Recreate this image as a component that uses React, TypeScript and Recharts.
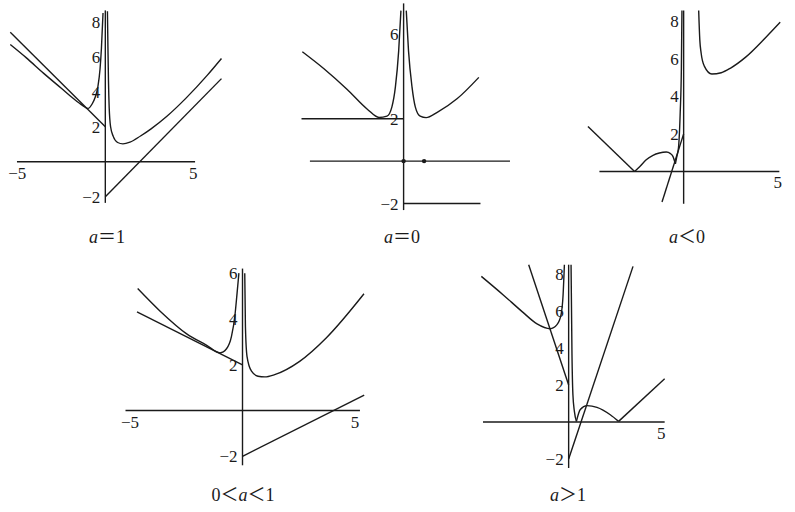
import React from 'react';
import {
  ComposedChart,
  Line,
  Scatter,
  XAxis,
  YAxis,
  ReferenceLine,
  ReferenceDot
} from 'recharts';

const INK = '#1a1a1a';
const SERIF = '"Liberation Serif", "Times New Roman", Times, serif';

// a = 1
const a1Left = [
  { x: -5.4, y: 6.7 }, { x: -4.5, y: 5.95 }, { x: -3.5, y: 5.05 }, { x: -2.5, y: 4.2 },
  { x: -1.8, y: 3.6 }, { x: -1.3, y: 3.22 }, { x: -1.0, y: 3.04 }, { x: -0.75, y: 3.3 },
  { x: -0.57, y: 3.7 }, { x: -0.42, y: 4.3 }, { x: -0.3, y: 5.3 }, { x: -0.22, y: 6.5 },
  { x: -0.13, y: 8.5 }
];
const a1Right = [
  { x: 0.12, y: 8.6 }, { x: 0.15, y: 6.5 }, { x: 0.18, y: 4.6 }, { x: 0.22, y: 3.1 },
  { x: 0.3, y: 2.0 }, { x: 0.45, y: 1.45 }, { x: 0.7, y: 1.1 }, { x: 1.0, y: 1.02 },
  { x: 1.4, y: 1.12 }, { x: 2.0, y: 1.47 }, { x: 2.6, y: 1.88 }, { x: 3.5, y: 2.6 },
  { x: 4.6, y: 3.65 }, { x: 5.8, y: 4.95 }, { x: 6.6, y: 5.9 }
];
const a1LineL = [{ x: -5.4, y: 7.4 }, { x: 0, y: 2 }];
const a1LineR = [{ x: 0, y: -2 }, { x: 6.6, y: 4.75 }];
const a1YTicks = [8, 6, 4, 2, -2];
const a1XTicks = [-5, 5];

// a = 0
const a0Left = [
  { x: -4.94, y: 5.16 }, { x: -3.9, y: 4.37 }, { x: -2.75, y: 3.38 }, { x: -1.77, y: 2.45 },
  { x: -1.2, y: 2.06 }, { x: -0.81, y: 2.12 }, { x: -0.57, y: 2.56 }, { x: -0.4, y: 3.5 },
  { x: -0.24, y: 5.2 }, { x: -0.13, y: 7.1 }
];
const a0Right = [
  { x: 0.13, y: 7.1 }, { x: 0.24, y: 5.2 }, { x: 0.41, y: 3.5 }, { x: 0.57, y: 2.56 },
  { x: 0.81, y: 2.12 }, { x: 1.1, y: 2.05 }, { x: 1.64, y: 2.3 }, { x: 2.62, y: 2.95 },
  { x: 3.67, y: 3.95 }
];
const a0Upper = [{ x: -4.98, y: 2 }, { x: 0, y: 2 }];
const a0Lower = [{ x: 0, y: -2 }, { x: 3.75, y: -2 }];
const a0Dots = [{ x: 0, y: 0 }, { x: 1, y: 0 }];
const a0YTicks = [6, 2, -2];

// a < 0
const aNegRight = [
  { x: 0.8, y: 8.56 }, { x: 0.86, y: 7.0 }, { x: 0.93, y: 6.3 }, { x: 1.1, y: 5.6 },
  { x: 1.5, y: 5.18 }, { x: 2.0, y: 5.25 }, { x: 2.5, y: 5.5 }, { x: 3.3, y: 6.08 },
  { x: 4.38, y: 7.14 }, { x: 5.14, y: 7.94 }
];
const aNegV = [{ x: -5.09, y: 2.39 }, { x: -2.61, y: 0 }];
const aNegHump = [
  { x: -2.61, y: 0 }, { x: -2.34, y: 0.25 }, { x: -1.99, y: 0.62 }, { x: -1.63, y: 0.86 },
  { x: -1.29, y: 0.98 }, { x: -0.92, y: 1.03 }, { x: -0.7, y: 0.95 }, { x: -0.57, y: 0.8 },
  { x: -0.44, y: 0.4 }
];
const aNegBranch = [
  { x: -0.44, y: 0.4 }, { x: -0.36, y: 0.8 }, { x: -0.27, y: 1.3 }, { x: -0.18, y: 3.2 },
  { x: -0.12, y: 5.5 }, { x: -0.09, y: 8.56 }
];
const aNegLine = [{ x: -1.15, y: -1.63 }, { x: 0, y: 2 }];
const aNegYTicks = [8, 6, 4, 2];
const aNegXTicks = [5];

// 0 < a < 1
const aMidLeft = [
  { x: -4.66, y: 5.33 }, { x: -3.66, y: 4.34 }, { x: -2.48, y: 3.35 }, { x: -1.59, y: 2.85 },
  { x: -1.0, y: 2.52 }, { x: -0.71, y: 2.7 }, { x: -0.49, y: 3.24 }, { x: -0.34, y: 4.12 },
  { x: -0.24, y: 5.14 }, { x: -0.16, y: 6.0 }
];
const aMidRight = [
  { x: 0.1, y: 6.0 }, { x: 0.13, y: 3.68 }, { x: 0.2, y: 2.37 }, { x: 0.4, y: 1.72 },
  { x: 0.69, y: 1.5 }, { x: 0.99, y: 1.47 }, { x: 1.43, y: 1.57 }, { x: 2.54, y: 2.15 },
  { x: 3.72, y: 3.17 }, { x: 5.4, y: 5.1 }
];
const aMidLineL = [{ x: -4.69, y: 4.31 }, { x: 0, y: 2 }];
const aMidLineR = [{ x: 0, y: -2 }, { x: 5.41, y: 0.67 }];
const aMidYTicks = [6, 4, 2, -2];
const aMidXTicks = [-5, 5];

// a > 1
const aBigLeft = [
  { x: -4.72, y: 7.87 }, { x: -3.55, y: 6.88 }, { x: -2.5, y: 5.95 }, { x: -1.71, y: 5.3 },
  { x: -1.0, y: 5.04 }, { x: -0.63, y: 5.26 }, { x: -0.41, y: 5.8 }, { x: -0.3, y: 6.88 },
  { x: -0.23, y: 8.5 }
];
const aBigDrop = [
  { x: 0.13, y: 8.5 }, { x: 0.18, y: 3.64 }, { x: 0.23, y: 1.48 }, { x: 0.31, y: 0.57 },
  { x: 0.42, y: 0.03 }
];
const aBigHump = [
  { x: 0.42, y: 0.03 }, { x: 0.63, y: 0.67 }, { x: 0.99, y: 0.88 }, { x: 1.53, y: 0.79 },
  { x: 2.25, y: 0.39 }, { x: 2.7, y: 0.03 }
];
const aBigTail = [{ x: 2.7, y: 0.03 }, { x: 5.19, y: 2.34 }];
const aBigLineL = [{ x: -2.16, y: 8.5 }, { x: 0, y: 2 }];
const aBigLineR = [{ x: 0, y: -2 }, { x: 3.48, y: 8.41 }];
const aBigYTicks = [8, 6, 4, 2, -2];
const aBigXTicks = [5];

const fmt = (v: number) => (v < 0 ? '\u2212' + Math.abs(v) : String(v));

type Pt = { x: number; y: number };
type PanelCfg = {
  ox: number; oy: number; sx: number; sy: number;
  xDom: [number, number]; yDom: [number, number];
  xAxis: [number, number]; yAxis: [number, number];
  curves: Pt[][]; straights: Pt[][]; dots?: Pt[];
  yTicks: number[]; xTicks: number[];
  title: React.ReactNode; tx: number; ty: number;
};

const A = ({ c }: { c: string }) => <i>{c}</i>;

const panels: PanelCfg[] = [
  {
    ox: 105, oy: 162, sx: 17.6, sy: 17.5, xDom: [-5.7, 6.9], yDom: [-2.6, 8.9],
    xAxis: [-5.02, 5.1], yAxis: [-2.35, 8.65],
    curves: [a1Left, a1Right], straights: [a1LineL, a1LineR],
    yTicks: a1YTicks, xTicks: a1XTicks,
    title: <><A c="a" />＝1</>, tx: 107, ty: 237
  },
  {
    ox: 403.3, oy: 161, sx: 20.5, sy: 21.2, xDom: [-5.2, 5.4], yDom: [-2.5, 7.6],
    xAxis: [-4.57, 5.19], yAxis: [-2.31, 7.44],
    curves: [a0Left, a0Right], straights: [a0Upper, a0Lower], dots: a0Dots,
    yTicks: a0YTicks, xTicks: [],
    title: <><A c="a" />＝0</>, tx: 402, ty: 237
  },
  {
    ox: 683.8, oy: 171, sx: 18.8, sy: 18.8, xDom: [-5.3, 5.4], yDom: [-1.9, 8.8],
    xAxis: [-4.48, 5.09], yAxis: [-1.72, 8.56],
    curves: [aNegRight, aNegHump, aNegBranch], straights: [aNegV, aNegLine],
    yTicks: aNegYTicks, xTicks: aNegXTicks,
    title: <><A c="a" />＜0</>, tx: 687, ty: 237
  },
  {
    ox: 242.7, oy: 411, sx: 22.5, sy: 22.9, xDom: [-5.4, 5.6], yDom: [-2.6, 6.4],
    xAxis: [-5.2, 5.22], yAxis: [-2.39, 6.2],
    curves: [aMidLeft, aMidRight], straights: [aMidLineL, aMidLineR],
    yTicks: aMidYTicks, xTicks: aMidXTicks,
    title: <>0＜<A c="a" />＜1</>, tx: 243, ty: 495
  },
  {
    ox: 568.8, oy: 422.3, sx: 18.5, sy: 18.5, xDom: [-4.9, 5.4], yDom: [-2.7, 8.7],
    xAxis: [-4.63, 5.19], yAxis: [-2.49, 8.5],
    curves: [aBigLeft, aBigDrop, aBigHump], straights: [aBigTail, aBigLineL, aBigLineR],
    yTicks: aBigYTicks, xTicks: aBigXTicks,
    title: <><A c="a" />＞1</>, tx: 568, ty: 495
  }
];

const SmallDot = (props: any) => <circle cx={props.cx} cy={props.cy} r={2.2} fill={INK} />;

// tick label drawn at the reference dot's position
const tickLabel = (text: string, side: 'left' | 'bottom') => (props: any) => {
  const vb = props.viewBox || {};
  const x = side === 'left' ? vb.x - 5 : vb.x;
  const y = side === 'left' ? vb.y + 6 : vb.y + 17;
  return (
    <text
      x={x}
      y={y}
      textAnchor={side === 'left' ? 'end' : 'middle'}
      fill={INK}
      fontSize={17}
      fontFamily={SERIF}
    >
      {text}
    </text>
  );
};

function Panel({ p }: { p: PanelCfg }) {
  const [x0, x1] = p.xDom;
  const [y0, y1] = p.yDom;
  const left = p.ox + x0 * p.sx;
  const top = p.oy - y1 * p.sy;
  const width = (x1 - x0) * p.sx;
  const height = (y1 - y0) * p.sy;
  return (
    <>
      <div style={{ position: 'absolute', left, top }}>
        <ComposedChart
          width={width}
          height={height}
          margin={{ top: 0, right: 0, bottom: 0, left: 0 }}
          style={{ overflow: 'visible' }}
        >
          <XAxis type="number" dataKey="x" domain={p.xDom} hide allowDataOverflow />
          <YAxis type="number" dataKey="y" domain={p.yDom} hide allowDataOverflow />
          <ReferenceLine
            segment={[{ x: p.xAxis[0], y: 0 }, { x: p.xAxis[1], y: 0 }]}
            stroke={INK}
            strokeWidth={1.4}
          />
          <ReferenceLine
            segment={[{ x: 0, y: p.yAxis[0] }, { x: 0, y: p.yAxis[1] }]}
            stroke={INK}
            strokeWidth={1.4}
          />
          {p.curves.map((d, i) => (
            <Line
              key={'c' + i}
              data={d}
              dataKey="y"
              type="monotone"
              dot={false}
              stroke={INK}
              strokeWidth={1.4}
              isAnimationActive={false}
            />
          ))}
          {p.straights.map((d, i) => (
            <Line
              key={'s' + i}
              data={d}
              dataKey="y"
              type="linear"
              dot={false}
              stroke={INK}
              strokeWidth={1.4}
              isAnimationActive={false}
            />
          ))}
          {p.dots && (
            <Scatter data={p.dots} dataKey="y" fill={INK} shape={SmallDot} isAnimationActive={false} />
          )}
          {p.yTicks.map((t) => (
            <ReferenceDot
              key={'y' + t}
              x={0}
              y={t}
              r={0}
              fill="none"
              stroke="none"
              label={tickLabel(fmt(t), 'left')}
            />
          ))}
          {p.xTicks.map((t) => (
            <ReferenceDot
              key={'x' + t}
              x={t}
              y={0}
              r={0}
              fill="none"
              stroke="none"
              label={tickLabel(fmt(t), 'bottom')}
            />
          ))}
        </ComposedChart>
      </div>
      <div
        style={{
          position: 'absolute',
          left: p.tx,
          top: p.ty,
          transform: 'translate(-50%, -50%)',
          whiteSpace: 'nowrap',
          fontFamily: SERIF + ', "Noto Sans CJK SC"',
          fontSize: 18,
          color: INK,
          lineHeight: 1
        }}
      >
        {p.title}
      </div>
    </>
  );
}

export default function App() {
  return (
    <div
      style={{
        position: 'absolute',
        left: 0,
        top: 0,
        width: 795,
        height: 512,
        background: '#fff',
        overflow: 'hidden'
      }}
    >
      {panels.map((p, i) => (
        <Panel key={i} p={p} />
      ))}
    </div>
  );
}
